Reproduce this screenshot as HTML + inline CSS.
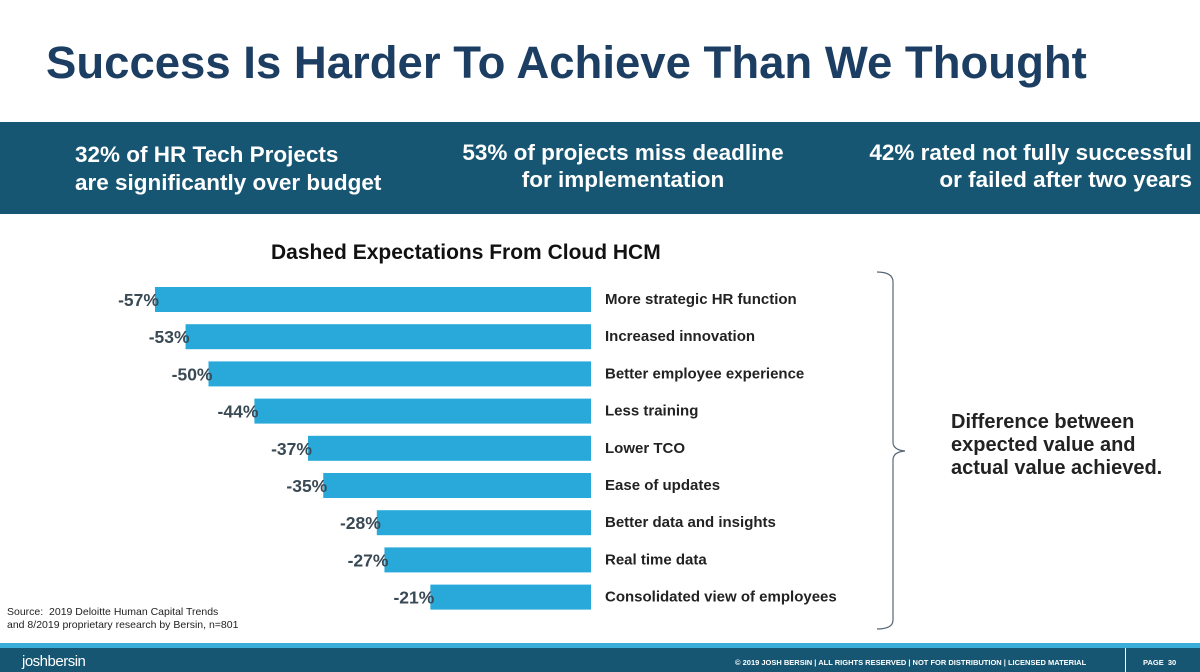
<!DOCTYPE html>
<html><head><meta charset="utf-8"><style>
body{margin:0;width:1200px;height:672px;overflow:hidden;background:#fff;font-family:"Liberation Sans",sans-serif;position:relative}
.a{position:absolute}
</style></head><body>
<div class="a" style="left:46px;top:37px;font-size:45.5px;font-weight:bold;color:#1d3e63;white-space:nowrap">Success Is Harder To Achieve Than We Thought</div>
<div class="a" style="left:0;top:122px;width:1200px;height:92px;background:#175672"></div>
<div class="a" style="left:75px;top:141px;color:#fff;font-size:22.5px;font-weight:bold;line-height:28px;white-space:nowrap">32% of HR Tech Projects<br>are significantly over budget</div>
<div class="a" style="left:423px;top:139px;width:400px;text-align:center;color:#fff;font-size:22.5px;font-weight:bold;line-height:27px">53% of projects miss deadline<br>for implementation</div>
<div class="a" style="left:800px;top:139px;width:392px;text-align:right;color:#fff;font-size:22.5px;font-weight:bold;line-height:27px">42% rated not fully successful<br>or failed after two years</div>
<div class="a" style="left:271px;top:241px;font-size:21px;font-weight:bold;color:#111">Dashed Expectations From Cloud HCM</div>
<svg class="a" style="left:0;top:0" width="1200" height="672" id="chart"></svg>
<div class="a" style="left:951px;top:411px;font-size:20px;font-weight:bold;color:#222;line-height:23px">Difference between<br>expected value and<br>actual value achieved.</div>
<div class="a" style="left:7px;top:606px;font-size:10.5px;color:#222;line-height:13px">Source:&nbsp; 2019 Deloitte Human Capital Trends<br>and 8/2019 proprietary research by Bersin, n=801</div>
<div class="a" style="left:0;top:643px;width:1200px;height:5px;background:#3aaed8"></div>
<div class="a" style="left:0;top:648px;width:1200px;height:24px;background:#175672"></div>
<div class="a" style="left:22px;top:653px;font-size:15px;color:#fff;letter-spacing:-0.5px">joshbersin</div>
<div class="a" style="left:735px;top:658px;font-size:7.5px;color:#fff;font-weight:bold">© 2019 JOSH BERSIN | ALL RIGHTS RESERVED | NOT FOR DISTRIBUTION | LICENSED MATERIAL</div>
<div class="a" style="left:1125px;top:648px;width:1px;height:24px;background:#fff"></div>
<div class="a" style="left:1143px;top:658px;font-size:7.5px;color:#fff;font-weight:bold">PAGE&nbsp; 30</div>
<script>
const categories=["More strategic HR function","Increased innovation","Better employee experience","Less training","Lower TCO","Ease of updates","Better data and insights","Real time data","Consolidated view of employees"];
const values=[-57,-53,-50,-44,-37,-35,-28,-27,-21];
const svg=document.getElementById('chart');
const NS='http://www.w3.org/2000/svg';
const x0=591, k=7.65, y0=287, step=37.2, bh=25;
const xs=v=>x0+v*k;
const ys=i=>y0+i*step;
values.forEach((v,i)=>{
  const r=document.createElementNS(NS,'rect');
  r.setAttribute('x',xs(v));r.setAttribute('y',ys(i));
  r.setAttribute('width',x0-xs(v));r.setAttribute('height',bh);
  r.setAttribute('fill','#29a9d9');
  
  
  svg.appendChild(r);
  const t=document.createElementNS(NS,'text');
  t.setAttribute('x',xs(v)+4);t.setAttribute('y',ys(i)+19);
  t.setAttribute('text-anchor','end');
  t.setAttribute('font-size','17.5');t.setAttribute('font-weight','bold');t.setAttribute('fill','#3a4a55');
  t.textContent=v+'%';
  
  
  svg.appendChild(t);
  const c=document.createElementNS(NS,'text');
  c.setAttribute('x',605);c.setAttribute('y',ys(i)+17);
  c.setAttribute('font-size','15');c.setAttribute('font-weight','bold');c.setAttribute('fill','#222');
  c.textContent=categories[i];
  
  
  svg.appendChild(c);
});
const p=document.createElementNS(NS,'path');
p.setAttribute('d','M877 272 Q893 272 893 282 L893 442 Q893 450 905 451 Q893 452 893 460 L893 620 Q893 629 877 629');
p.setAttribute('fill','none');p.setAttribute('stroke','#556677');p.setAttribute('stroke-width','1.2');


svg.appendChild(p);
</script>
</body></html>
